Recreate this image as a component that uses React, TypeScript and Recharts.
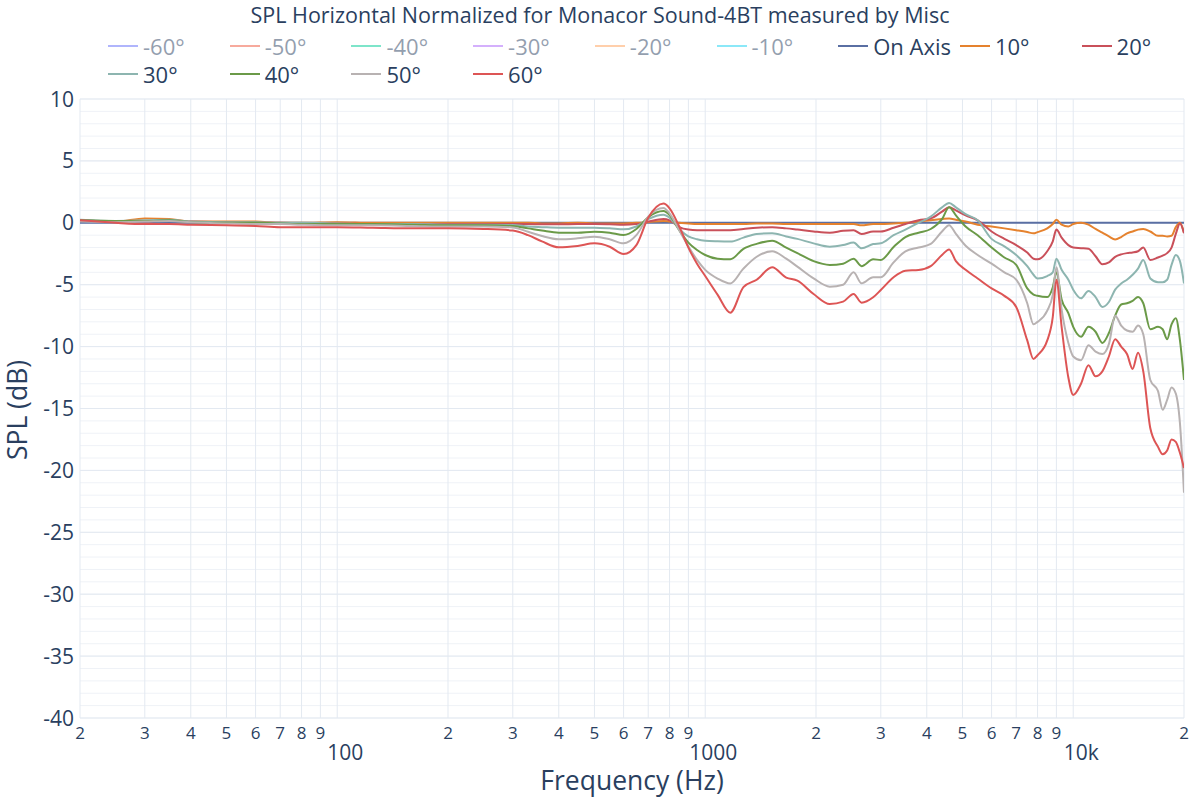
import React from 'react'
import { LineChart, Line, XAxis, YAxis, CartesianGrid } from 'recharts'

const FONT = '"Open Sans", verdana, arial, sans-serif'
const INK = '#2a3f5f'

const freqs = [
  20, 25, 30, 35, 40, 50, 60, 70, 80, 100, 125, 160, 200, 250, 300, 330, 360, 400, 450, 500, 550, 600,
  650, 700, 770, 800, 850, 900, 950, 1000, 1080, 1170, 1270, 1380, 1520, 1660, 1780, 1970, 2180, 2370,
  2530, 2660, 2860, 3000, 3250, 3500, 3800, 4100, 4400, 4600, 4800, 5100, 5500, 6000, 6500, 7000, 7500,
  7800, 8000, 8500, 8800, 9000, 9300, 9700, 10000, 10500, 11000, 11500, 12000, 12500, 13000, 13500,
  14000, 14500, 15000, 15500, 16200, 17000, 17500, 18000, 18500, 19000, 19500, 20000
]

const onAxis = [
  0, 0, 0, 0, 0, 0, 0, 0, 0, 0, 0, 0, 0, 0, 0, 0, 0, 0, 0, 0, 0, 0,
  0, 0, 0, 0, 0, 0, 0, 0, 0, 0, 0, 0, 0, 0, 0, 0, 0, 0,
  0, 0, 0, 0, 0, 0, 0, 0, 0, 0, 0, 0, 0, 0, 0, 0, 0,
  0, 0, 0, 0, 0, 0, 0, 0, 0, 0, 0, 0, 0, 0, 0,
  0, 0, 0, 0, 0, 0, 0, 0, 0, 0, 0, 0
]

const deg10 = [
  0.2, 0.1, 0.35, 0.3, 0.1, 0.1, 0.1, 0, 0, 0.05, 0, 0, 0, 0, 0, 0, -0.05, -0.05, 0, -0.05, -0.05, -0.05,
  0, 0.05, 0.15, 0.1, 0, -0.05, -0.1, -0.1, -0.1, -0.1, -0.1, -0.05, -0.05, -0.1, -0.1, -0.1, -0.1, -0.1,
  -0.1, -0.2, -0.1, -0.1, -0.05, 0, 0.1, 0.2, 0.3, 0.35, 0.25, 0.1, -0.15, -0.3, -0.45, -0.6, -0.75,
  -0.85, -0.75, -0.45, -0.1, 0.25, -0.15, -0.3, -0.1, 0, -0.15, -0.5, -0.8, -1.1, -1.35, -1.15,
  -0.85, -0.7, -0.55, -0.5, -0.7, -1.05, -1.05, -1.1, -1.05, -0.35, 0, -0.8
]

const deg20 = [
  0.2, 0.1, 0.1, 0.2, 0.1, 0.05, 0, 0, -0.05, -0.05, -0.1, -0.1, -0.1, -0.1, -0.1, -0.1, -0.12, -0.12, -0.1, -0.1, -0.12, -0.15,
  -0.1, 0.1, 0.3, 0.2, -0.35, -0.55, -0.6, -0.6, -0.6, -0.6, -0.5, -0.4, -0.35, -0.45, -0.55, -0.7, -0.8, -0.65,
  -0.6, -0.9, -0.7, -0.7, -0.4, -0.1, 0.2, 0.35, 0.9, 1.25, 1.0, 0.6, 0.2, -0.7, -1.3, -1.8, -2.4,
  -2.9, -2.95, -2.3, -1.5, -0.55, -1.2, -1.8, -2.0, -2.05, -2.1, -2.7, -3.35, -3.2, -2.75, -2.55,
  -2.45, -2.4, -2.3, -2.0, -3.0, -2.8, -2.65, -2.45, -2.0, -0.9, -0.05, -0.85
]

const deg30 = [
  0.25, 0.15, 0.2, 0.25, 0.1, 0.05, 0.05, 0, 0, -0.05, -0.1, -0.1, -0.15, -0.15, -0.18, -0.3, -0.35, -0.4, -0.4, -0.4, -0.45, -0.53,
  -0.3, 0.3, 0.65, 0.4, -0.5, -1.1, -1.33, -1.45, -1.5, -1.52, -1.2, -0.9, -0.85, -1.1, -1.3, -1.66, -1.93, -1.8,
  -1.6, -2.06, -1.72, -1.66, -1.0, -0.55, 0, 0.5, 1.25, 1.6, 1.25, 0.7, 0.2, -1.3, -1.9, -2.6, -3.5,
  -4.2, -4.5, -4.3, -4.0, -2.9, -3.8, -4.6, -5.4, -6.1, -5.5, -6.0, -6.8, -6.4, -5.4, -4.9,
  -4.6, -4.2, -3.7, -3.0, -4.5, -4.8, -4.8, -4.6, -3.4, -2.6, -3.1, -4.9
]

const deg40 = [
  0.2, 0.15, 0.15, 0.2, 0.05, 0, 0, -0.05, -0.1, -0.1, -0.1, -0.15, -0.2, -0.2, -0.26, -0.45, -0.63, -0.8, -0.8, -0.72, -0.8, -0.99,
  -0.5, 0.45, 0.95, 0.63, -0.6, -1.6, -2.2, -2.6, -2.9, -2.95, -2.1, -1.7, -1.45, -2.0, -2.45, -3.1, -3.4, -3.3,
  -2.9, -3.5, -2.95, -3.0, -1.95, -1.15, -0.8, -0.5, 0.3, 1.25, 0.6, -0.3, -1.0, -2.0, -2.8, -3.4, -5.3,
  -5.8, -5.9, -6.0, -5.2, -4.0, -6.2, -7.3, -8.4, -9.2, -8.4, -8.8, -9.7, -8.9, -7.5, -6.6,
  -6.5, -6.3, -6.0, -6.5, -8.6, -8.4, -8.6, -9.4, -8.2, -7.7, -9.5, -12.7
]

const deg50 = [
  0.1, 0.05, 0.1, 0.15, 0.05, -0.05, -0.1, -0.1, -0.15, -0.2, -0.2, -0.25, -0.3, -0.3, -0.37, -0.72, -1.07, -1.33, -1.25, -1.12, -1.33, -1.66,
  -1.0, 0.5, 1.2, 0.77, -0.6, -1.9, -3.0, -3.8, -4.5, -4.9, -3.7, -2.74, -2.3, -2.9, -3.54, -4.49, -5.16, -5.0,
  -4.0, -4.89, -4.4, -4.4, -3.2, -2.3, -2.0, -1.7, -0.7, -0.2, -0.9, -1.85, -2.6, -3.3, -4.0, -4.6, -6.5,
  -8.2, -8.0, -7.1, -5.8, -3.6, -7.0, -9.7, -10.8, -11.1, -9.9, -10.4, -10.6, -9.8, -7.5, -8.3,
  -8.7, -8.8, -8.3, -9.0, -12.7, -13.6, -15.1, -14.3, -13.3, -13.8, -16.2, -21.8
]

const deg60 = [
  0.2, 0, -0.1, -0.1, -0.15, -0.2, -0.25, -0.35, -0.35, -0.35, -0.4, -0.45, -0.45, -0.5, -0.63, -1.0, -1.5, -1.98, -1.87, -1.66, -1.93, -2.52,
  -1.8, 0.4, 1.55, 1.17, -0.3, -2.0, -3.3, -4.3, -5.8, -7.26, -5.2, -4.6, -3.6, -4.43, -4.67, -5.75, -6.56, -6.37,
  -5.75, -6.45, -6.02, -5.43, -4.4, -3.87, -3.81, -3.5, -2.6, -2.15, -3.1, -3.8, -4.5, -5.3, -5.9, -6.8, -9.5,
  -11.0, -10.7, -9.5, -7.6, -4.6, -8.4, -12.5, -13.9, -13.0, -11.5, -12.4, -12.0, -10.8, -9.4, -10.0,
  -10.6, -11.8, -10.5, -12.0, -16.6, -18.1, -18.7, -18.4, -17.5, -17.7, -18.6, -19.8
]

const xTicks = [
  20, 30, 40, 50, 60, 70, 80, 90, 100, 200, 300, 400, 500, 600, 700, 800, 900, 1000,
  2000, 3000, 4000, 5000, 6000, 7000, 8000, 9000, 10000, 20000
]
const yTicks = [-40, -35, -30, -25, -20, -15, -10, -5, 0, 5, 10]
const yMinor = Array.from({ length: 51 }, (_, i) => i - 40)

const hiddenNames = ['-60°', '-50°', '-40°', '-30°', '-20°', '-10°']
const hiddenColors = ['#636efa', '#ef553b', '#00cc96', '#ab63fa', '#ffa15a', '#19d3f3']

const visible = [
  { key: 'onAxis', name: 'On Axis', color: '#5a6fa3', values: onAxis },
  { key: 'deg10', name: '10°', color: '#e5822e', values: deg10 },
  { key: 'deg20', name: '20°', color: '#c9505a', values: deg20 },
  { key: 'deg30', name: '30°', color: '#8db5b0', values: deg30 },
  { key: 'deg40', name: '40°', color: '#6b9a48', values: deg40 },
  { key: 'deg50', name: '50°', color: '#b8b2b2', values: deg50 },
  { key: 'deg60', name: '60°', color: '#dd5555', values: deg60 }
]

const data = freqs.map((f, i) => {
  const row: Record<string, number> = { freq: f }
  visible.forEach((s) => {
    row[s.key] = s.values[i]
  })
  return row
})

const legendItems = [
  ...hiddenNames.map((n, i) => ({ name: n, color: hiddenColors[i], hidden: true })),
  ...visible.map((s) => ({ name: s.name, color: s.color, hidden: false }))
]

function FreqTick({ x, y, payload }: any) {
  const v = payload.value as number
  if (v === 100 || v === 1000 || v === 10000) {
    return (
      <text x={x + 8} y={y + 42} textAnchor='middle' fontSize={21} fill={INK} fontFamily={FONT}>
        {v === 10000 ? '10k' : String(v)}
      </text>
    )
  }
  return (
    <text x={x} y={y + 21} textAnchor='middle' fontSize={17} fill={INK} fontFamily={FONT}>
      {String(v)[0]}
    </text>
  )
}

function DbTick({ x, y, payload }: any) {
  const v = payload.value as number
  return (
    <text x={x - 6} y={y} dy='0.36em' textAnchor='end' fontSize={21} fill={INK} fontFamily={FONT}>
      {String(v)}
    </text>
  )
}

function Legend() {
  return (
    <>
      {legendItems.map((item, i) => {
        const row = i < 9 ? 0 : 1
        const col = i < 9 ? i : i - 9
        return (
          <div
            key={item.name}
            style={{
              position: 'absolute',
              left: 103 + col * 121.7,
              top: row === 0 ? 46 : 74,
              height: 0,
              opacity: item.hidden ? 0.5 : 1
            }}
          >
            <div style={{ position: 'absolute', left: 5, top: -1, width: 30, height: 2, background: item.color }} />
            <div
              style={{
                position: 'absolute',
                left: 40,
                top: -13,
                fontSize: 22,
                lineHeight: '26px',
                color: INK,
                whiteSpace: 'nowrap'
              }}
            >
              {item.name}
            </div>
          </div>
        )
      })}
    </>
  )
}

export default function App() {
  return (
    <div
      style={{
        position: 'absolute',
        left: 0,
        top: 0,
        width: 1200,
        height: 800,
        background: '#fff',
        fontFamily: FONT,
        overflow: 'hidden'
      }}
    >
      <LineChart width={1200} height={800} data={data} margin={{ top: 99, right: 16, bottom: 0, left: 0 }}>
        <CartesianGrid stroke='#eff2f7' vertical={false} horizontalValues={yMinor} />
        <CartesianGrid stroke='#e3e9f1' verticalValues={xTicks} horizontalValues={yTicks} />
        <XAxis
          dataKey='freq'
          type='number'
          scale='log'
          domain={[20, 20000]}
          ticks={xTicks}
          interval={0}
          allowDataOverflow
          axisLine={false}
          tickLine={false}
          tickSize={0}
          tickMargin={0}
          height={82}
          tick={(p: any) => <FreqTick {...p} />}
        />
        <YAxis
          type='number'
          domain={[-40, 10]}
          ticks={yTicks}
          interval={0}
          allowDataOverflow
          axisLine={false}
          tickLine={false}
          tickSize={0}
          tickMargin={0}
          width={80}
          tick={(p: any) => <DbTick {...p} />}
        />
        {visible.map((s) => (
          <Line
            key={s.key}
            dataKey={s.key}
            name={s.name}
            type='monotone'
            stroke={s.color}
            strokeWidth={2}
            dot={false}
            activeDot={false}
            isAnimationActive={false}
          />
        ))}
      </LineChart>
      <div
        style={{
          position: 'absolute',
          left: 0,
          width: 1200,
          top: 1,
          textAlign: 'center',
          fontSize: 21.5,
          lineHeight: '28px',
          color: INK
        }}
      >
        SPL Horizontal Normalized for Monacor Sound-4BT measured by Misc
      </div>
      <Legend />
      <div
        style={{
          position: 'absolute',
          left: 17,
          top: 410,
          transform: 'translate(-50%, -50%) rotate(-90deg)',
          fontSize: 26.5,
          lineHeight: 1,
          color: INK,
          whiteSpace: 'nowrap'
        }}
      >
        SPL (dB)
      </div>
      <div
        style={{
          position: 'absolute',
          left: 632,
          top: 780,
          transform: 'translate(-50%, -50%)',
          fontSize: 26.5,
          lineHeight: 1,
          color: INK,
          whiteSpace: 'nowrap'
        }}
      >
        Frequency (Hz)
      </div>
    </div>
  )
}
